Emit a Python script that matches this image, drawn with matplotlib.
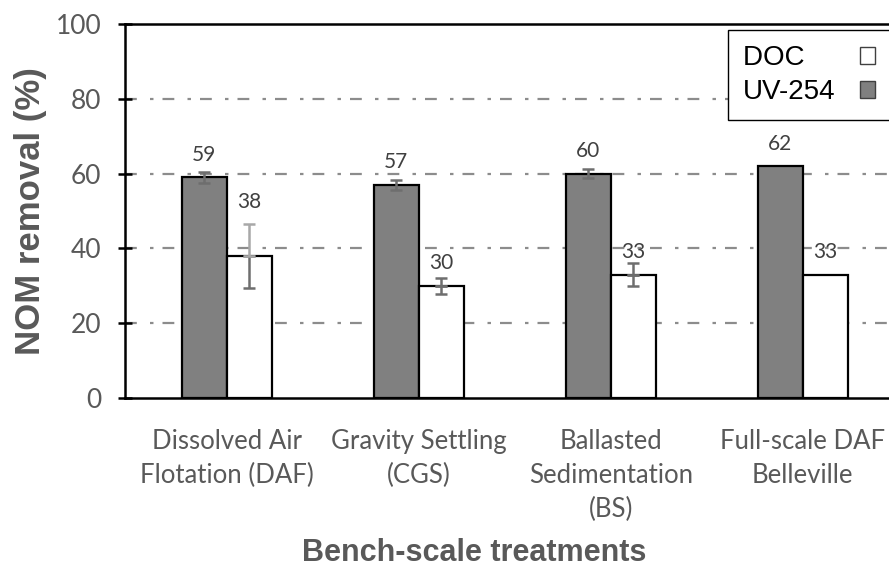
import matplotlib
matplotlib.use("Agg")
import matplotlib.pyplot as plt
from matplotlib.patches import Patch
import numpy as np

# Treatments and removal percentages
categories = ["Dissolved Air\nFlotation (DAF)", "Gravity Settling\n(CGS)",
              "Ballasted\nSedimentation\n(BS)", "Full-scale DAF\nBelleville"]
uv254 = [59, 57, 60, 62]
uv254_err = [1.5, 1.3, 1.3, 0]
doc = [38, 30, 33, 33]
doc_err = [8.5, 2.1, 3.1, 0]
y_ticks = [0, 20, 40, 60, 80, 100]

plt.rcParams["lines.scale_dashes"] = False

fig = plt.figure(figsize=(8.89, 5.67), dpi=100)
ax = fig.add_axes([125 / 889, 169 / 567, 779.5 / 889, 374 / 567])

x = np.arange(len(categories))
w = 0.235

ax.bar(x - w / 2, uv254, w, color="#808080", edgecolor="black", linewidth=1.6, zorder=3)
ax.bar(x + w / 2, doc, w, color="white", edgecolor="black", linewidth=1.6, zorder=3)

# whiskers: lower half drawn dark; upper half of the wide DAF spread is lighter
whisker_dark = "#6e6e6e"
doc_upper_colors = ["#a8a8a8", whisker_dark, whisker_dark, whisker_dark]
err_kw = dict(fmt="none", elinewidth=1.8, capsize=4.3, capthick=1.8, zorder=4)
for xi, v, e in zip(x - w / 2, uv254, uv254_err):
    if e > 0:
        ax.errorbar(xi, v, yerr=e, ecolor=whisker_dark, **err_kw)
for xi, v, e, c in zip(x + w / 2, doc, doc_err, doc_upper_colors):
    if e > 0:
        ax.errorbar(xi, v, yerr=[[e], [0]], ecolor=whisker_dark, **err_kw)
        ax.errorbar(xi, v, yerr=[[0], [e]], ecolor=c, **err_kw)

# value labels above each bar (DOC label of the widest spread sits above its whisker)
label_kw = dict(textcoords="offset points", ha="center", va="bottom",
                fontsize=15, color="#404040", family="Lato", zorder=5)
for xi, v in zip(x - w / 2, uv254):
    ax.annotate(f"{v}", (xi, v), xytext=(0, 9), **label_kw)
for xi, v, e in zip(x + w / 2, doc, doc_err):
    base = v + e if e > 5 else v
    ax.annotate(f"{v}", (xi, base), xytext=(0, 9), **label_kw)

ax.set_xlim(-0.53, 3.53)
ax.set_ylim(0, 100)
ax.set_yticks(y_ticks)
ax.set_yticklabels([str(t) for t in y_ticks], family="Lato", fontsize=19, color="#595959")
ax.set_xticks(x)
ax.set_xticklabels(categories, family="Lato", fontsize=18.5, color="#595959", linespacing=1.45)
ax.tick_params(axis="x", length=0, pad=22)
ax.tick_params(axis="y", direction="inout", length=10, width=1.8, color="black", pad=12)

for t in [20, 40, 60, 80]:
    ax.axhline(t, color="#8c8c8c", linewidth=1.6, linestyle=(0, (8.5, 9.5, 2.5, 6.5)), zorder=1)

for s in ["left", "bottom", "top"]:
    ax.spines[s].set_linewidth(1.8)
    ax.spines[s].set_color("black")
ax.spines["right"].set_visible(False)

ax.set_ylabel("NOM removal (%)", family="Liberation Sans", fontweight="bold",
              fontsize=25, color="#595959", labelpad=6)
fig.text(474 / 889, 1 - 553 / 567, "Bench-scale treatments", family="Liberation Sans",
         fontweight="bold", fontsize=22, color="#595959", ha="center", va="center")

handles = [Patch(facecolor="white", edgecolor="#404040", linewidth=1.0),
           Patch(facecolor="#808080", edgecolor="#404040", linewidth=1.0)]
leg = ax.legend(handles, ["DOC    ", "UV-254"], loc="upper left",
                bbox_to_anchor=(728 / 889, 1 - 30 / 567), bbox_transform=fig.transFigure,
                markerfirst=False, frameon=True, fancybox=False, framealpha=1,
                prop={"family": "Liberation Sans", "size": 20},
                handlelength=0.55, handleheight=0.55, handletextpad=0.85,
                labelspacing=0.28, borderpad=0.55, borderaxespad=0)
leg.get_frame().set_edgecolor("black")
leg.get_frame().set_linewidth(1.0)
leg.set_zorder(6)

fig.savefig("out.png", dpi=100)
